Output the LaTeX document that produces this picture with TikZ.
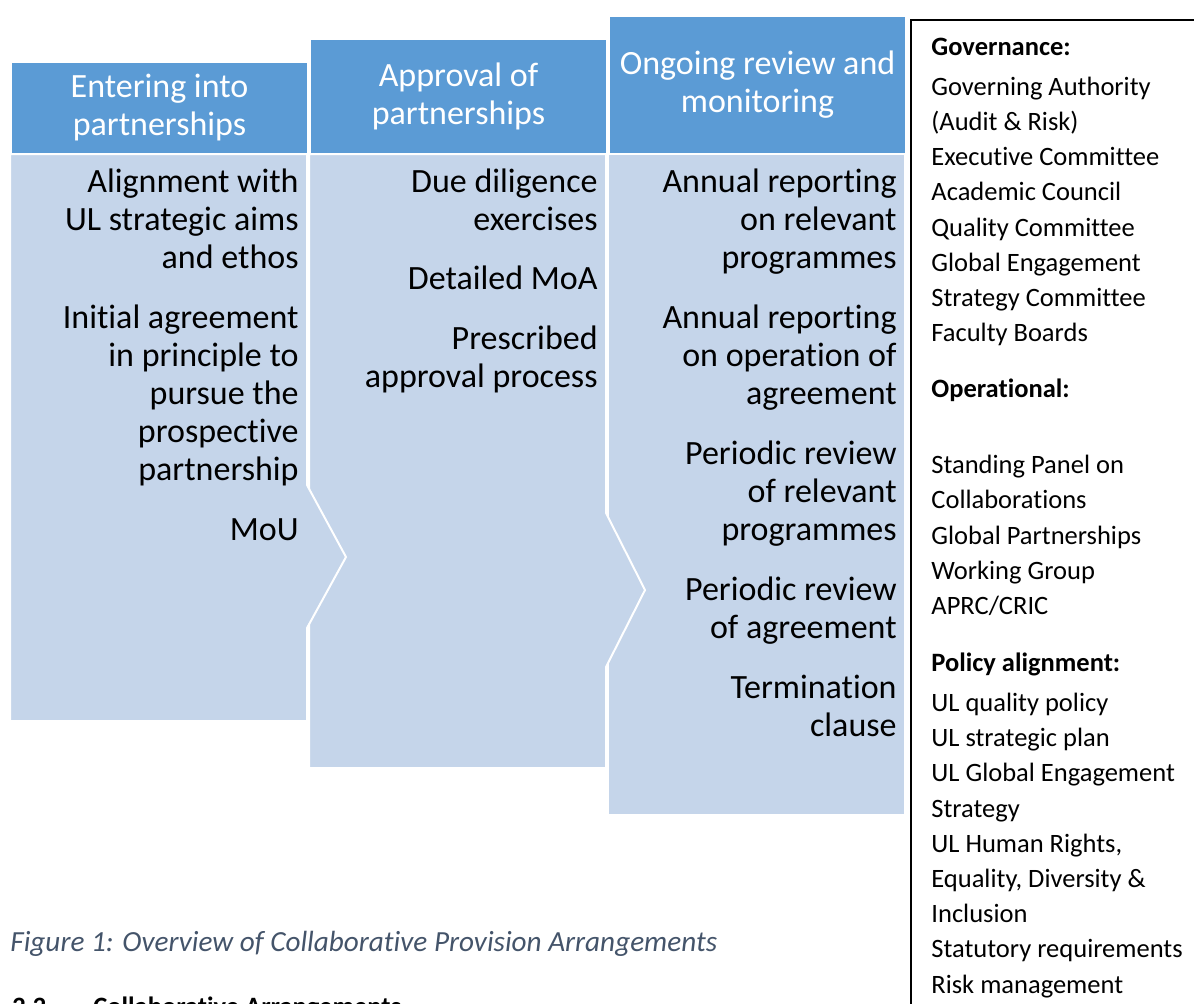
\documentclass[tikz,border=0pt]{standalone}
\usepackage{fontspec}
\setmainfont{Carlito}[Ligatures=CommonOff]
\usetikzlibrary{positioning}
\definecolor{headblue}{HTML}{5B9BD5}
\definecolor{bodyblue}{HTML}{C5D5EA}
\definecolor{capgray}{HTML}{44546A}

\begin{document}
\begin{tikzpicture}[x=0.5pt, y=-0.5pt,
        stagehead/.style={fill=headblue, draw=white, line width=1pt, text=white, align=center,
            inner sep=0pt, minimum width=148.5pt, anchor=north west, font=\fontsize{17}{19}\selectfont},
        stagebody/.style={fill=bodyblue, draw=white, line width=1pt},
        bodytext/.style={anchor=base east, inner sep=0pt, align=right, font=\fontsize{17}{19}\selectfont},
        listtext/.style={anchor=base west, inner sep=0pt, align=left, font=\fontsize{13.25}{17.6}\selectfont}]
        \useasboundingbox (0,0) rectangle (1194,1003);
        \clip (0,0) rectangle (1194,1003);
        % 三个阶段的主体（从右往左画，箭头压在后一列上）
        \draw[stagebody] (608,154) -- (905,154) -- (905,815) -- (608,815) -- cycle;
        \draw[stagebody] (309,154) -- (606,154) -- (606,513) -- (645,590) -- (606,667) -- (606,768) -- (309,768) -- cycle;
        \draw[stagebody] (10,154) -- (307,154) -- (307,485) -- (346,557) -- (307,628) -- (307,721) -- (10,721) -- cycle;
        % 标题
        \node[stagehead, minimum height=46pt] (enterhead) at (10,61) {Entering into\\partnerships};
        \node[stagehead, minimum height=57.5pt] (approvehead) at (309,38) {Approval of\\partnerships};
        \node[stagehead, minimum height=69pt] (reviewhead) at (608,15) {Ongoing review and\\monitoring};
        % 各列内容（基线对齐到最后一行）
        \node[bodytext] (entertext) at (299,540) {Alignment with\\UL strategic aims\\and ethos\\[11pt]Initial agreement\\in principle to\\pursue the\\prospective\\partnership\\[11pt]MoU};
        \node[bodytext] (approvetext) at (598,387) {Due diligence\\exercises\\[10.5pt]Detailed MoA\\[11pt]Prescribed\\approval process};
        \node[bodytext] (reviewtext) at (897,736) {Annual reporting\\on relevant\\programmes\\[11pt]Annual reporting\\on operation of\\agreement\\[11pt]Periodic review\\of relevant\\programmes\\[11pt]Periodic review\\of agreement\\[11pt]Termination\\clause};
        % 右边的框
        \draw[line width=0.75pt] (1200,20) -- (911,20) -- (911,1010);
        \node[listtext] (bodies) at (931,993) {\textbf{Governance:}\\[2.4pt]Governing Authority\\(Audit \& Risk)\\Executive Committee\\Academic Council\\Quality Committee\\Global Engagement\\Strategy Committee\\Faculty Boards\\[10.4pt]\textbf{Operational:}\\[20.4pt]Standing Panel on\\Collaborations\\Global Partnerships\\Working Group\\APRC/CRIC\\[10.9pt]\textbf{Policy alignment:}\\[2.4pt]UL quality policy\\UL strategic plan\\UL Global Engagement\\Strategy\\UL Human Rights,\\Equality, Diversity \&\\Inclusion\\Statutory requirements\\Risk management};
        % 图注和下一节标题
        \node[anchor=base west, inner sep=0pt, text=capgray, font=\fontsize{14.6}{17}\selectfont\itshape] (caption) at (10,951) {Figure 1: Overview of Collaborative Provision Arrangements};
        \node[anchor=base west, inner sep=0pt, font=\fontsize{13.25}{16}\selectfont\bfseries] (secnum) at (12,1015) {2.2};
        \node[anchor=base west, inner sep=0pt, font=\fontsize{13.25}{16}\selectfont\bfseries] (sectitle) at (93,1015) {Collaborative Arrangements};
\end{tikzpicture}
\end{document}
